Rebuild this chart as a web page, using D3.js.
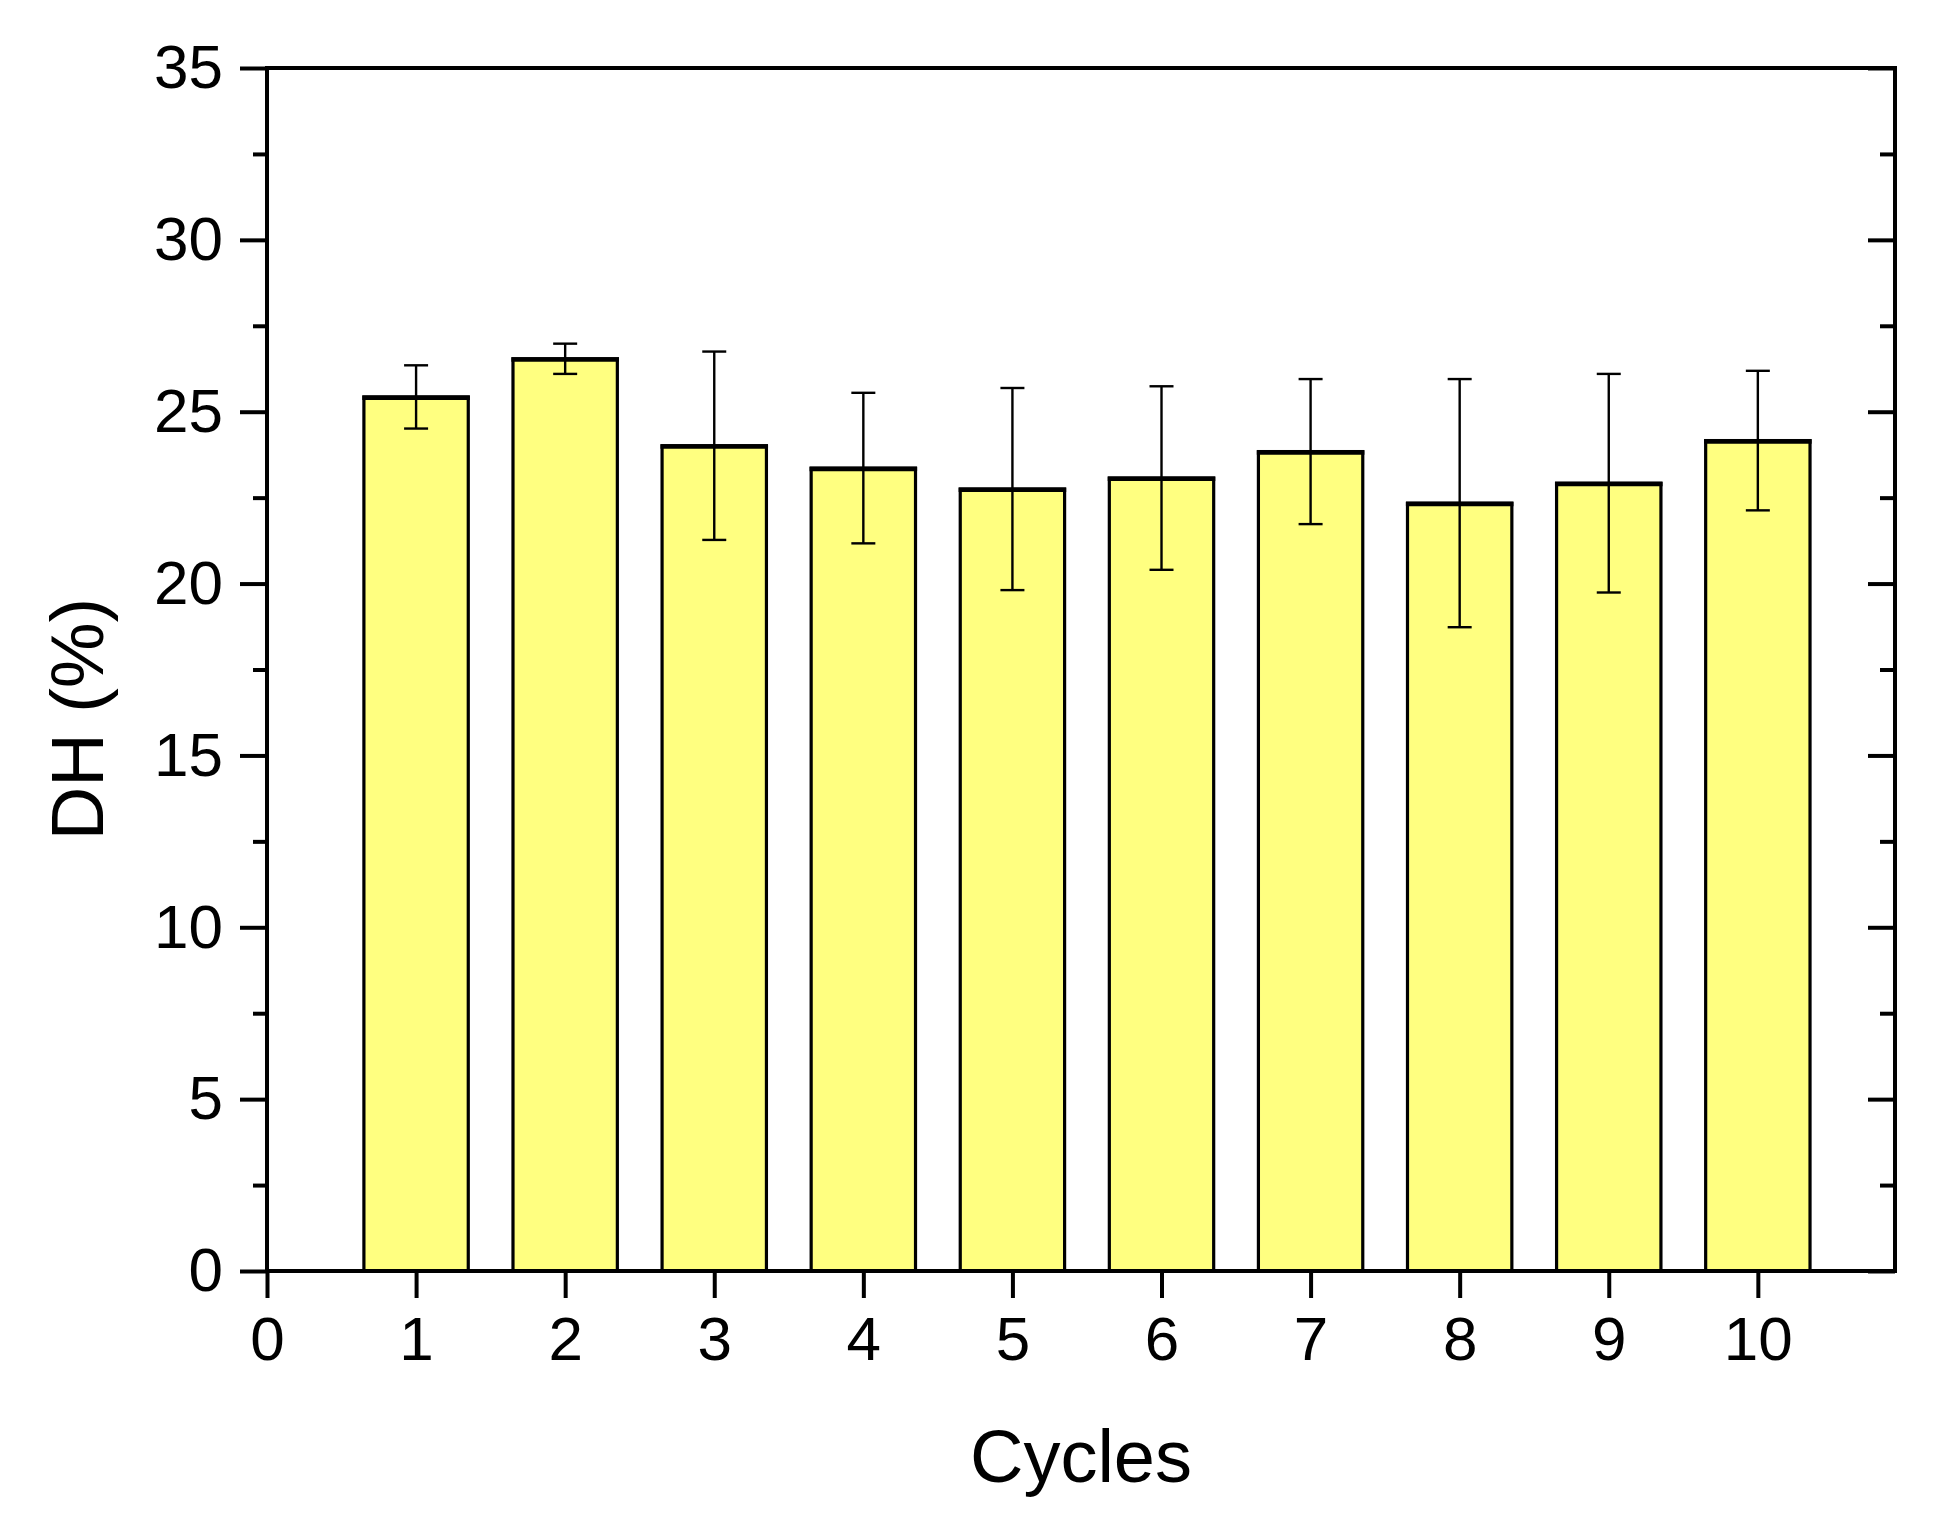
<!DOCTYPE html>
<html>
<head>
<meta charset="utf-8">
<script src="https://cdn.jsdelivr.net/npm/d3@7"></script>
<style>
  body { margin: 0; background: #fff; }
  svg { display: block; font-family: "Liberation Sans", Arial, sans-serif; }
  .domain { display: none; }
</style>
</head>
<body>
<div id="wrapper"></div>
<script>
// data
const cycles = [1, 2, 3, 4, 5, 6, 7, 8, 9, 10];
const dhMean = [25.43, 26.54, 24.01, 23.36, 22.75, 23.07, 23.84, 22.34, 22.92, 24.16];
const dhErr  = [0.92, 0.44, 2.74, 2.19, 2.94, 2.67, 2.11, 3.61, 3.18, 2.03];
const xTicks = [0, 1, 2, 3, 4, 5, 6, 7, 8, 9, 10];
const yTicks = [0, 5, 10, 15, 20, 25, 30, 35];
const yMinor = [2.5, 7.5, 12.5, 17.5, 22.5, 27.5, 32.5];

const dim = {
    width: 1934,
    height: 1523,
    left: 267,
    right: 1895,
    top: 68,
    bottom: 1271
};

const svg = d3.select("#wrapper").append("svg")
    .attr("width", dim.width)
    .attr("height", dim.height);

const xScaler = d3.scaleLinear()
    .domain([0, 10.92])
    .range([dim.left, dim.right]);

const yScaler = d3.scaleLinear()
    .domain([0, 35])
    .range([dim.bottom, dim.top]);

const barW = xScaler(0.7) - xScaler(0);

// bars
const bars = svg.append("g");
bars.selectAll("rect")
    .data(cycles)
    .join("rect")
    .attr("x", (d) => xScaler(d) - barW / 2)
    .attr("y", (d, i) => yScaler(dhMean[i]))
    .attr("width", barW)
    .attr("height", (d, i) => yScaler(0) - yScaler(dhMean[i]))
    .attr("fill", "#ffff80")
    .attr("stroke", "#000")
    .attr("stroke-width", 3.2);

// the top edges come out heavier in the original
bars.selectAll("line")
    .data(cycles)
    .join("line")
    .attr("x1", (d) => xScaler(d) - barW / 2 - 1.6)
    .attr("x2", (d) => xScaler(d) + barW / 2 + 1.6)
    .attr("y1", (d, i) => yScaler(dhMean[i]) + 0.8)
    .attr("y2", (d, i) => yScaler(dhMean[i]) + 0.8)
    .attr("stroke", "#000")
    .attr("stroke-width", 4.5);

// error bars
const capW = 12;
const err = svg.append("g")
    .attr("stroke", "#000")
    .attr("stroke-width", 2.4);
cycles.forEach((c, i) => {
    const x = xScaler(c);
    const hi = yScaler(dhMean[i] + dhErr[i]);
    const lo = yScaler(dhMean[i] - dhErr[i]);
    err.append("line").attr("x1", x).attr("x2", x).attr("y1", hi).attr("y2", lo);
    err.append("line").attr("x1", x - capW).attr("x2", x + capW).attr("y1", hi).attr("y2", hi);
    err.append("line").attr("x1", x - capW).attr("x2", x + capW).attr("y1", lo).attr("y2", lo);
});

// left axis, ticks outward
const yAxis = svg.append("g")
    .attr("transform", `translate(${dim.left},0)`)
    .call(d3.axisLeft(yScaler).tickValues(yTicks).tickSize(27).tickPadding(17));
yAxis.selectAll("line").attr("stroke-width", 4);
yAxis.selectAll("text")
    .attr("font-size", 62)
    .attr("font-family", "Liberation Sans, Arial, sans-serif")
    .attr("fill", "#000");

svg.append("g")
    .attr("transform", `translate(${dim.left},0)`)
    .call(d3.axisLeft(yScaler).tickValues(yMinor).tickSize(14).tickFormat(""))
    .selectAll("line").attr("stroke-width", 4);

// right axis, ticks inward, no labels
svg.append("g")
    .attr("transform", `translate(${dim.right},0)`)
    .call(d3.axisLeft(yScaler).tickValues(yTicks).tickSize(27).tickFormat(""))
    .selectAll("line").attr("stroke-width", 4);
svg.append("g")
    .attr("transform", `translate(${dim.right},0)`)
    .call(d3.axisLeft(yScaler).tickValues(yMinor).tickSize(15).tickFormat(""))
    .selectAll("line").attr("stroke-width", 4);

// bottom axis
const xAxis = svg.append("g")
    .attr("transform", `translate(0,${dim.bottom})`)
    .call(d3.axisBottom(xScaler).tickValues(xTicks).tickFormat(d3.format("d")).tickSize(27).tickPadding(18));
xAxis.selectAll("line").attr("stroke-width", 4);
xAxis.selectAll("text")
    .attr("font-size", 62)
    .attr("font-family", "Liberation Sans, Arial, sans-serif")
    .attr("fill", "#000");

// frame
svg.append("rect")
    .attr("x", dim.left)
    .attr("y", dim.top)
    .attr("width", dim.right - dim.left)
    .attr("height", dim.bottom - dim.top)
    .attr("fill", "none")
    .attr("stroke", "#000")
    .attr("stroke-width", 4);

// axis titles
svg.append("text")
    .attr("x", (dim.left + dim.right) / 2)
    .attr("y", 1482)
    .attr("text-anchor", "middle")
    .attr("font-size", 74)
    .text("Cycles");

svg.append("text")
    .attr("transform", `translate(103,719) rotate(-90)`)
    .attr("text-anchor", "middle")
    .attr("font-size", 74)
    .text("DH (%)");
</script>
</body>
</html>
